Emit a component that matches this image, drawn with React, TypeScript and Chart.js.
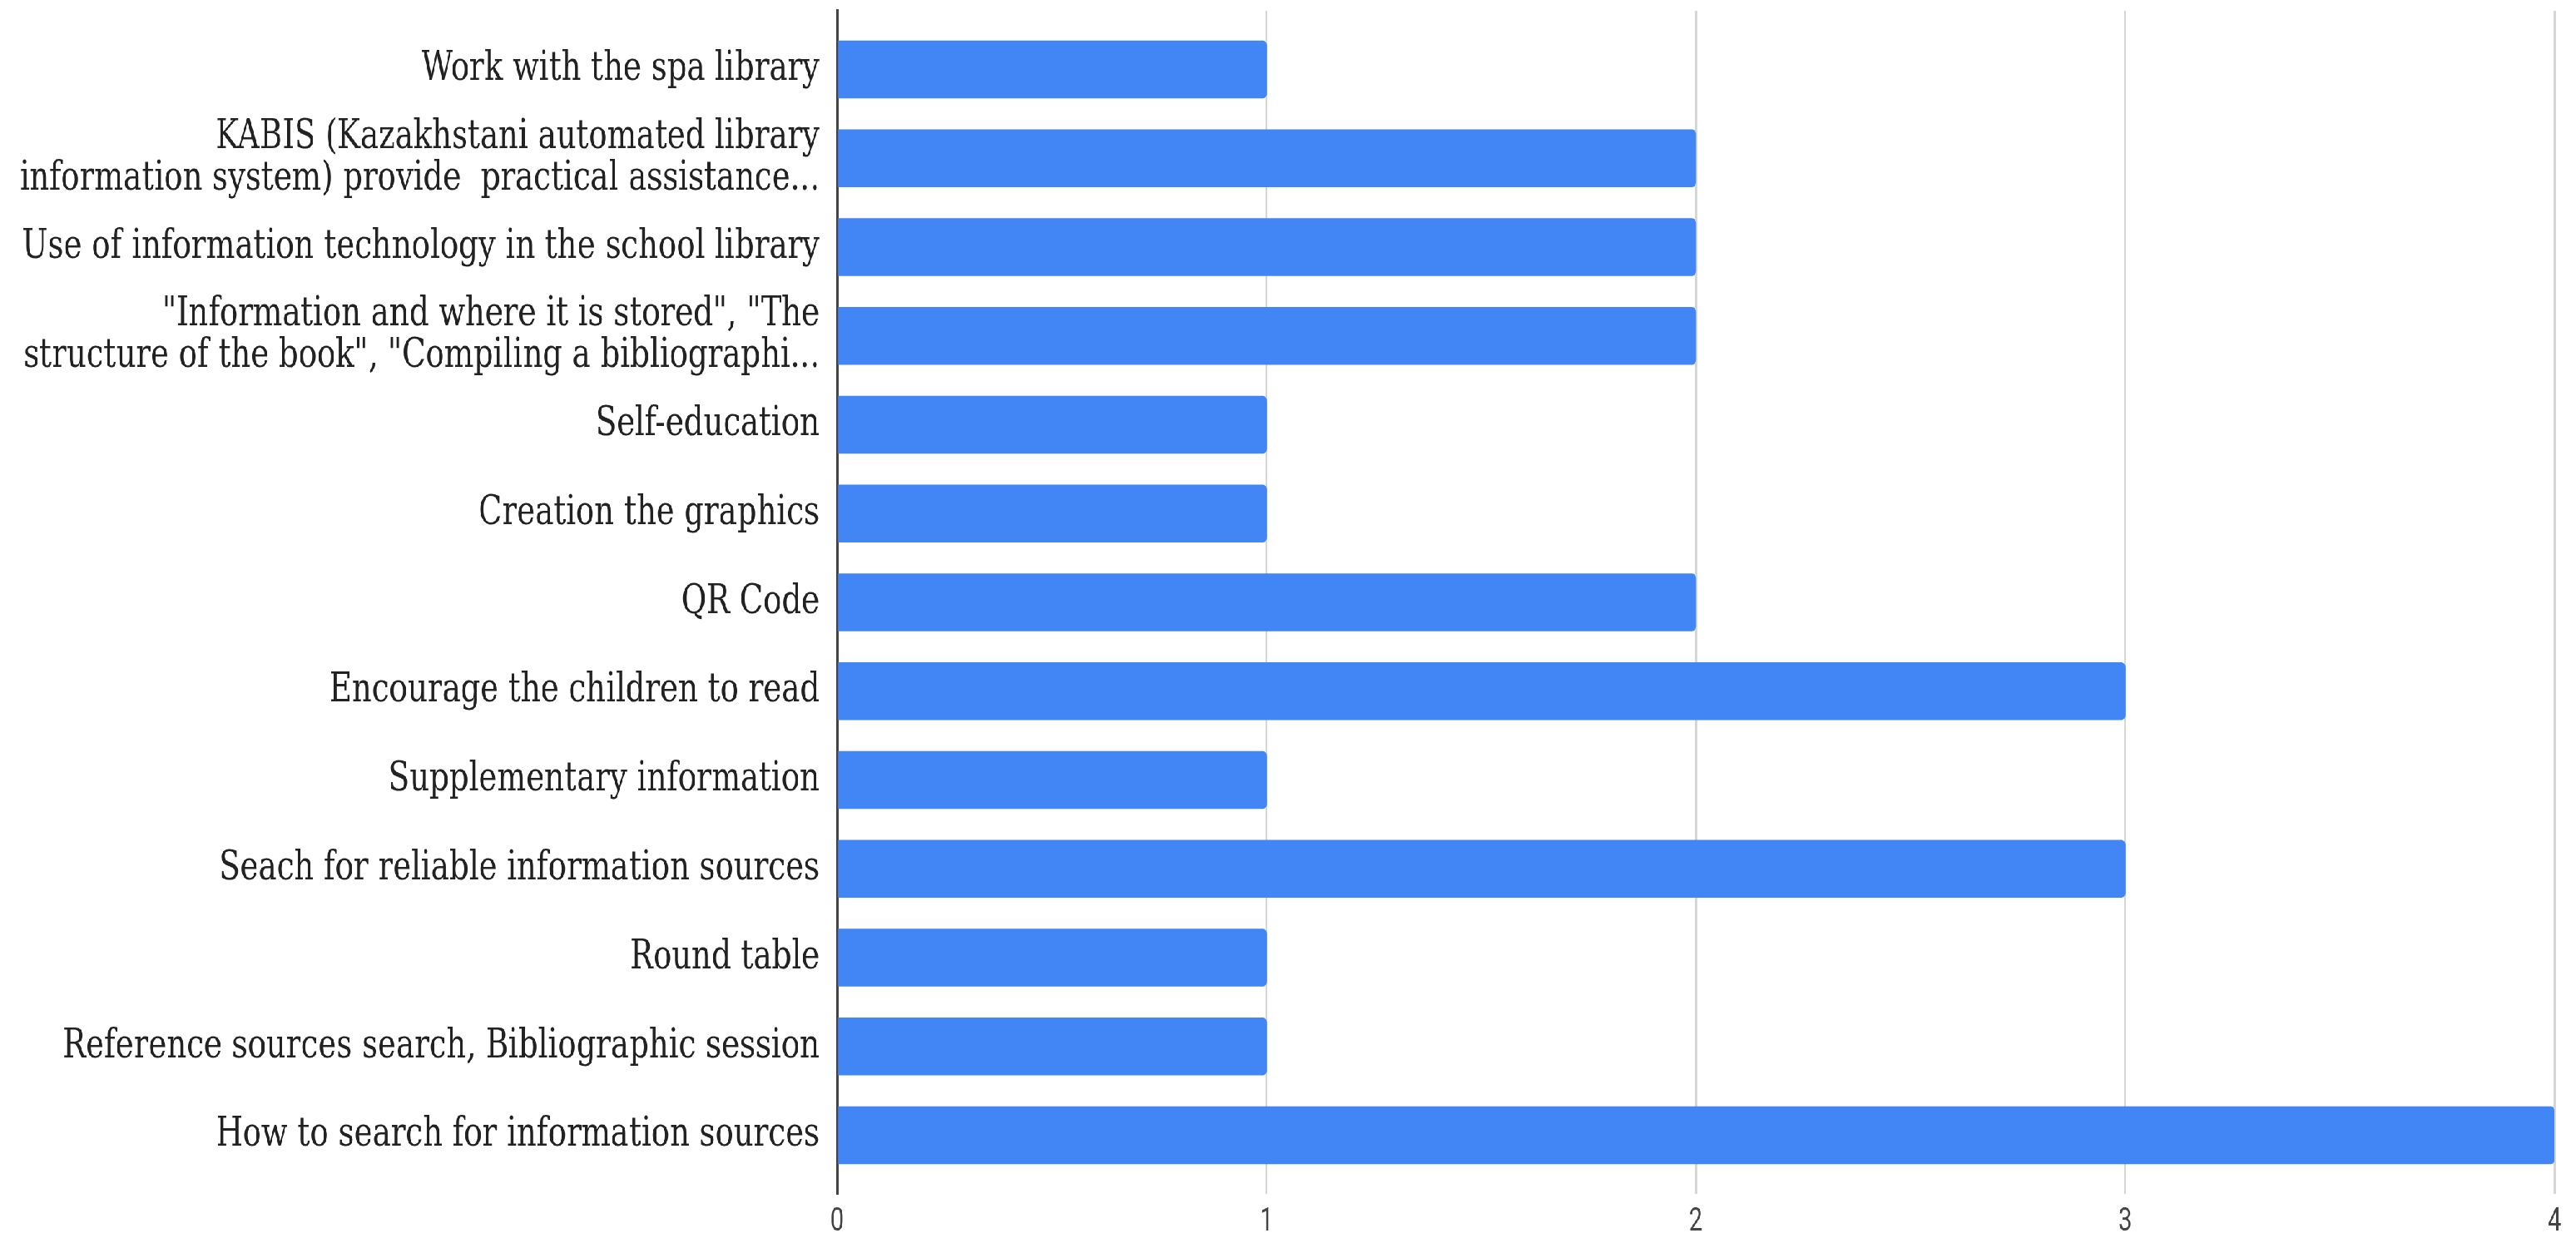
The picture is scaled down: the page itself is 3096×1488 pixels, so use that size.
import React, { useEffect, useRef } from "react";
import { Chart, registerables } from "chart.js";

Chart.register(...registerables);

// ---- data ----
const categories: (string | string[])[] = [
  "Work with the spa library",
  ["KABIS (Kazakhstani automated library", "information system) provide  practical assistance..."],
  "Use of information technology in the school library",
  ['"Information and where it is stored", "The', 'structure of the book", "Compiling a bibliographi...'],
  "Self-education",
  "Creation the graphics",
  "QR Code",
  "Encourage the children to read",
  "Supplementary information",
  "Seach for reliable information sources",
  "Round table",
  "Reference sources search, Bibliographic session",
  "How to search for information sources",
];
const values = [1, 2, 2, 2, 1, 1, 2, 3, 1, 3, 1, 1, 4];
const xTicks = [0, 1, 2, 3, 4];

// ---- layout / style ----
const SX = 0.756;
const PAGE_W = 3096;
const PAGE_H = 1488;
const W0 = Math.round(PAGE_W / SX);
const BAR_COLOR = "#4285F4";

export default function App() {
  const ref = useRef<HTMLCanvasElement>(null);

  useEffect(() => {
    document.body.style.margin = "0";
    const chart = new Chart(ref.current as HTMLCanvasElement, {
      type: "bar",
      data: {
        datasets: [
          {
            data: values.map((v, i) => ({ x: v, y: i })),
            backgroundColor: BAR_COLOR,
            barThickness: 69,
            borderRadius: 6,
            borderSkipped: "start",
          },
        ],
      },
      options: {
        indexAxis: "y",
        animation: false,
        responsive: true,
        maintainAspectRatio: false,
        layout: { padding: { top: 13, right: 34, left: 0, bottom: 0 } },
        plugins: {
          legend: { display: false },
          tooltip: { enabled: false },
        },
        scales: {
          x: {
            type: "linear",
            min: 0,
            max: 4,
            afterBuildTicks: (s: any) => {
              s.ticks = xTicks.map((v) => ({ value: v }));
            },
            afterFit: (s: any) => {
              s.height = 53;
              s.paddingLeft = 0;
              s.paddingRight = 0;
            },
            ticks: {
              font: { family: "Roboto", size: 38 },
              color: "#444444",
              padding: 12,
            },
            grid: {
              drawTicks: false,
              color: (ctx: any) =>
                ctx.tick && ctx.tick.value === 0 ? "rgba(0,0,0,0)" : "#d6d6d6",
              lineWidth: 3,
            },
            border: { display: false },
          },
          y: {
            type: "linear",
            offset: false,
            min: -0.66,
            max: 12.66,
            reverse: true,
            afterBuildTicks: (s: any) => {
              s.ticks = categories.map((_, i) => ({ value: i }));
            },
            afterFit: (s: any) => {
              s.width = 1331;
              s.paddingTop = 0;
              s.paddingBottom = 0;
            },
            ticks: {
              autoSkip: false,
              callback: (v: any) => categories[v as number],
              font: { family: "DejaVu Serif", size: 49, lineHeight: 1.02 },
              color: "#222222",
              padding: 28,
            },
            grid: { display: false, drawTicks: false, offset: false },
            border: { display: true, color: "#444444", width: 4 },
          },
        },
      },
    });
    return () => chart.destroy();
  }, []);

  return (
    <div
      style={{
        position: "absolute",
        left: 0,
        top: 0,
        width: W0,
        height: PAGE_H,
        transform: `scaleX(${SX})`,
        transformOrigin: "0 0",
        background: "#ffffff",
      }}
    >
      <canvas ref={ref} />
    </div>
  );
}
